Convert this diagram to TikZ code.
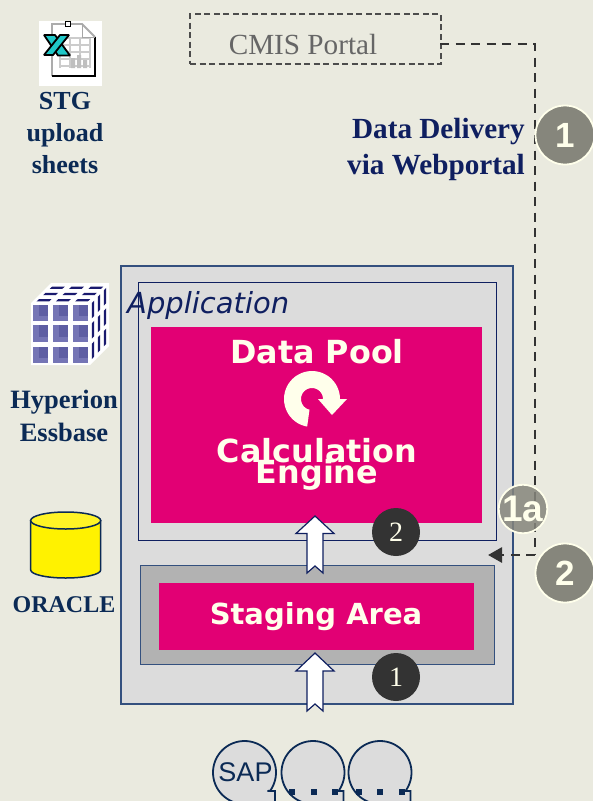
\documentclass[tikz,border=0pt]{standalone}
\usepackage{fontspec}
\setmainfont{Liberation Serif}
\newfontfamily\dejavu{DejaVu Sans}
\newfontfamily\arialf{Liberation Sans}
\usetikzlibrary{arrows.meta}
\definecolor{bgc}{HTML}{EAEADF}
\definecolor{panel}{HTML}{DCDCDC}
\definecolor{edgec}{HTML}{34507E}
\definecolor{pinkc}{HTML}{E20074}
\definecolor{stagec}{HTML}{B2B2B2}
\definecolor{cream}{HTML}{FFFFEB}
\definecolor{navyt}{HTML}{0F1F60}
\definecolor{navys}{HTML}{0B2A55}
\definecolor{greyc}{HTML}{86867C}
\definecolor{darkc}{HTML}{333333}
\definecolor{cubea}{HTML}{7575B5}
\definecolor{cubeb}{HTML}{1A1A6E}
\definecolor{xteal}{HTML}{20C8C8}
\tikzset{
  x=1pt,y=-1pt,
  lab/.style={font=\bfseries\fontsize{#1}{#1}\selectfont,text=navys,inner sep=0pt,align=center},
  lab/.default=26,
  pinktext/.style={font=\dejavu\bfseries\fontsize{#1}{#1}\selectfont,text=cream,inner sep=0pt},
  greycirc/.style={circle,draw=cream,line width=1.8pt,fill=greyc,text=cream,font=\arialf\bfseries\fontsize{#1}{#1}\selectfont,inner sep=0pt},
  darkcirc/.style={circle,fill=darkc,text=cream,font=\fontsize{28}{28}\selectfont,inner sep=0pt,minimum size=48pt},
  blockarrow/.style={draw=navyt,line width=1.2pt,fill=white,line join=miter},
  bubble/.style={draw=navys,line width=1.8pt,fill=panel},
  dashc/.style={draw=darkc,line width=2.8pt,dash pattern=on 9pt off 6.5pt},
}
\newcommand{\bubblepath}[2]{%
  \draw[bubble] plot[domain=35:-270,samples=70] ({#1+31.5*cos(\x)},{772.5+31.5*sin(\x)}) -- (#1+30.5,805) -- (#1+30.5,791) -- (#1+23,791) -- cycle;
}
\begin{document}
\begin{tikzpicture}
\useasboundingbox (0,0) rectangle (593,801);
\clip (0,0) rectangle (593,801);
\fill[bgc] (0,0) rectangle (593,801);

% Excel icon
\fill[white] (39,21) rectangle (102,86);
\foreach \yy in {38,45,52,59,66}{\draw[gray!40,line width=1.8pt] (60,\yy) -- (90,\yy);}
\foreach \xx in {60,70,80,90}{\draw[gray!40,line width=1.8pt] (\xx,38) -- (\xx,68);}
\fill[gray!50] (71,68) rectangle (75,58) (77,68) rectangle (81,55) (83,68) rectangle (87,60);
\draw[gray!65,line width=1.8pt] (52,76) -- (52,24) -- (82,24) -- (95,37);
\draw[black,line width=1.6pt] (95,37) -- (95,76) -- (52,76);
\draw[gray!70,line width=1pt] (82,24) -- (82,37) -- (95,37);
\draw[black,fill=white,line width=.6pt] (65,21) rectangle (70.5,26.5);
\draw[black,fill=xteal,line width=1.8pt,line join=bevel]
 (44,35) -- (55,35) -- (70,55.5) -- (58,55.5) -- cycle;
\draw[black,fill=xteal,line width=1.8pt,line join=bevel]
 (44,55) -- (53,55) -- (69,35) -- (60,35) -- cycle;
\node[lab] (stg) at (65,133) {STG\\[6pt]upload\\[6pt]sheets};

% Hyperion cube
\fill[white] (31,303) -- (51,283) -- (109,283) -- (109,346) -- (90,365) -- (31,365) -- cycle;
\foreach \xx in {33,53,73}{\foreach \yy/\hh in {305/16,325/17,347/16}{
  \fill[cubea] (\xx,\yy) rectangle ++(15,\hh);
  \fill[cubea!75!cubeb] (\xx+6,\yy) rectangle ++(9,\hh-5);
}}
\foreach \ss in {0,1,2}{\foreach \tt in {0,1,2}{
  \fill[cubeb] ({32+58*(\ss+.15)/3+20*(\tt+.25)/3},{303-19*(\tt+.25)/3}) --
    ({32+58*(\ss+.8)/3+20*(\tt+.25)/3},{303-19*(\tt+.25)/3}) --
    ({32+58*(\ss+.8)/3+20*(\tt+.6)/3},{303-19*(\tt+.6)/3}) --
    ({32+58*(\ss+.15)/3+20*(\tt+.6)/3},{303-19*(\tt+.6)/3}) -- cycle;
  \fill[cubeb] ({90+18*(\ss+.3)/3},{303-19*(\ss+.3)/3+61*(\tt+.1)/3}) --
    ({90+18*(\ss+.7)/3},{303-19*(\ss+.7)/3+61*(\tt+.1)/3}) --
    ({90+18*(\ss+.7)/3},{303-19*(\ss+.7)/3+61*(\tt+.85)/3}) --
    ({90+18*(\ss+.3)/3},{303-19*(\ss+.3)/3+61*(\tt+.85)/3}) -- cycle;
}}
\node[lab=26.5] (hyp) at (64,416) {Hyperion\\[6pt]Essbase};

% Oracle cylinder
\draw[navys,line width=1.5pt,fill=yellow] (30.7,520.5) -- (30.7,570) arc[start angle=180,end angle=0,x radius=35,y radius=8] -- (100.7,520.5) -- cycle;
\draw[navys,line width=1.5pt,fill=yellow!85!white] (65.7,520.5) ellipse [x radius=35,y radius=8.5];
\node[lab=24] (ora) at (64,605) {ORACLE};

% Portal
\node[draw=black!70,line width=2pt,dash pattern=on 6pt off 3.5pt,minimum width=251pt,minimum height=50pt,inner sep=0pt,anchor=north west] (portal) at (189,13) {};
\node[font=\fontsize{29.2}{29}\selectfont,text=black!60,inner sep=0pt] (portaltxt) at (303,44.5) {CMIS Portal};
\node[lab=29.2,text=navyt,align=right,anchor=east] (deliv) at (525,149.5) {Data Delivery\\[7pt]via Webportal};

% Application
\draw[draw=edgec,line width=1.2pt,fill=panel] (121,266) rectangle (513,704);
\node[draw=navyt,line width=1.2pt,fill=panel,minimum width=358pt,minimum height=258pt,inner sep=0pt,anchor=north west] (app) at (138,282) {};
\node[font=\dejavu\itshape\fontsize{29}{29}\selectfont,text=navyt,inner sep=0pt,anchor=west] (apptxt) at (127,305) {Application};
\node[fill=pinkc,minimum width=331pt,minimum height=196pt,inner sep=0pt,anchor=north west] (pool) at (151,327) {};
\node[pinktext=31.8] (pooltxt) at (317,352) {Data Pool};
\fill[cream] plot[domain=100:360,samples=40] ({312+28*cos(\x)},{399+28*sin(\x)}) -- (347,399) -- (332,415) -- (318,399) -- (323,399) -- plot[domain=360:103,samples=30] ({312+11*cos(\x)},{399+11*sin(\x)}) -- cycle;
\node[pinktext=31.8] (calctxt) at (317,450.5) {Calculation};
\node[pinktext=31.8] (engtxt) at (317,475) {Engine};

% Staging
\node[draw=edgec,line width=1.2pt,fill=stagec,minimum width=354pt,minimum height=99pt,inner sep=0pt,anchor=north west] (stage) at (140,565) {};
\node[fill=pinkc,minimum width=315pt,minimum height=67pt,inner sep=0pt,anchor=north west] (stagein) at (159,583) {};
\node[pinktext=29] (stagetxt) at (316,617) {Staging Area};

% Block arrows
\draw[blockarrow] (315,516) -- (334,533.5) -- (323,533.5) -- (323,573) -- (315,566) -- (307,573) -- (307,533.5) -- (296,533.5) -- cycle;
\draw[blockarrow] (315,653) -- (334,671) -- (323,671) -- (323,711) -- (315,704) -- (307,711) -- (307,671) -- (296,671) -- cycle;

% Dark circles
\node[darkcirc] (d2) at (396,532) {2};
\node[darkcirc] (d1) at (396,677) {1};

% Dashed connector
\coordinate (portalout) at (440,44);
\coordinate (bend) at (535,44);
\coordinate (corner) at (535,555);
\coordinate (target) at (488,555);
\draw[dashc] (portalout) -- (bend) -- (corner);
\draw[dashc,-{Triangle[length=14pt,width=15pt]}] (corner) -- (target);

% Grey circles
\node[greycirc=35,minimum size=59pt] (g1) at (565,135) {1};
\node[greycirc=35,minimum size=59pt] (g2) at (565,573) {2};
\node[greycirc=37,minimum size=46pt,fill opacity=.85,text opacity=1] (g1a) at (523,509) {1a};

% Source bubbles
\bubblepath{244.5}{}
\bubblepath{313}{}
\bubblepath{380}{}
\node[font=\arialf\fontsize{27}{27}\selectfont,text=navys,inner sep=0pt] (sap) at (245.5,772) {SAP};
\foreach \xx in {292,314,335,359,380,402}{\fill[navys] (\xx-3,789) rectangle (\xx+3,795);}
\end{tikzpicture}
\end{document}
